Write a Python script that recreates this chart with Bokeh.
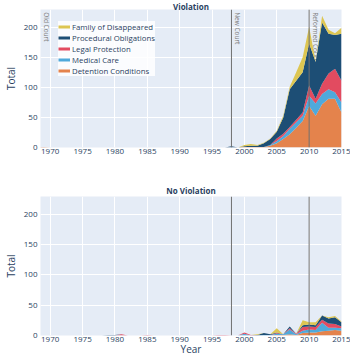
from bokeh.plotting import figure
from bokeh.models import ColumnDataSource, Span, Legend, LegendItem, Range1d
from bokeh.layouts import column
from bokeh.core.properties import value
from bokeh.embed import file_html
from bokeh.resources import INLINE

years = list(range(1968, 2016))
series_names = ["Detention Conditions", "Medical Care", "Legal Protection",
                "Procedural Obligations", "Family of Disappeared"]
colors = ["#E4834C", "#4FA9DB", "#E24B60", "#1D4E75", "#DDC652"]

#            1968 .......................................................................................... 2015
viol_detention = [0, 1, 0, 0, 0, 0, 0, 0, 0, 0, 0, 0, 0, 0, 0, 0, 0, 0, 0, 0, 0, 0, 0, 0, 0, 0, 0, 0, 0, 0,
                  0, 0, 1, 1, 1, 1, 3, 7, 14, 22, 33, 44, 69, 53, 72, 81, 81, 58]
viol_medical = [0, 0, 0, 0, 0, 0, 0, 0, 0, 0, 0, 0, 0, 0, 0, 0, 0, 0, 0, 0, 0, 0, 0, 0, 0, 0, 0, 0, 0, 0,
                0, 0, 0, 0, 0, 0, 1, 4, 5, 9, 9, 9, 17, 20, 17, 16, 11, 17]
viol_legal = [0, 0, 0, 0, 0, 0, 0, 0, 0, 0, 0, 0, 0, 0, 0, 0, 0, 0, 0, 0, 0, 0, 0, 0, 0, 0, 0, 0, 0, 0,
              0, 0, 0, 0, 0, 0, 0, 4, 4, 3, 4, 5, 17, 8, 17, 26, 39, 36]
viol_procedural = [0, 0, 0, 0, 0, 0, 0, 0, 0, 0, 0, 0, 0, 0, 0, 0, 0, 0, 0, 0, 0, 0, 0, 0, 0, 0, 0, 0, 0, 0,
                   2, 0, 1, 2, 2, 6, 10, 11, 27, 63, 65, 67, 70, 61, 102, 66, 56, 78]
viol_family = [0, 0, 0, 0, 0, 0, 0, 0, 0, 0, 0, 0, 0, 0, 0, 0, 0, 0, 0, 0, 0, 0, 0, 0, 0, 0, 0, 0, 0, 0,
               0, 0, 2, 3, 1, 1, 1, 2, 3, 4, 14, 25, 28, 1, 11, 7, 3, 10]

noviol_detention = [0, 0, 0, 0, 0, 0, 0, 0, 0, 0, 0, 0, 0, 0, 0, 0, 0, 0, 0, 0, 0, 0, 0, 0, 0, 0, 0, 0, 0, 0,
                    0, 0, 0, 0, 0, 0, 0, 1, 1, 2, 1, 4, 5, 5, 7, 8, 9, 8]
noviol_medical = [0, 0, 0, 0, 0, 0, 0, 0, 0, 0, 0, 0, 0, 0, 0, 0, 0, 0, 0, 0, 0, 0, 0, 0, 0, 0, 0, 0, 0, 0,
                  0, 0, 3, 0, 0, 1, 1, 2, 1, 8, 1, 4, 5, 4, 14, 5, 4, 4]
noviol_legal = [0, 0, 0, 0, 0, 0, 0, 0, 0, 0, 0, 0, 0, 2, 0, 0, 0, 1, 0, 0, 0, 0, 0, 0, 0, 0, 0, 0, 1, 1,
                0, 0, 2, 1, 0, 0, 0, 1, 0, 2, 1, 6, 5, 5, 5, 7, 6, 3]
noviol_procedural = [0, 0, 0, 0, 0, 0, 0, 0, 0, 0, 0, 1, 1, 0, 0, 0, 0, 0, 0, 0, 0, 0, 0, 0, 0, 0, 0, 0, 0, 0,
                     0, 0, 0, 0, 1, 3, 1, 1, 0, 3, 0, 3, 3, 3, 7, 8, 11, 7]
noviol_family = [0, 0, 0, 0, 0, 0, 0, 0, 0, 0, 0, 0, 0, 0, 0, 0, 0, 0, 0, 0, 0, 0, 0, 0, 0, 0, 0, 0, 0, 0,
                 0, 0, 0, 0, 1, 0, 0, 7, 0, 0, 0, 8, 4, 5, 0, 2, 2, 1]

x_ticks = [1970, 1975, 1980, 1985, 1990, 1995, 2000, 2005, 2010, 2015]
y_ticks = [0, 50, 100, 150, 200]
court_labels = ["Old Court", "New Court", "Reformed Court"]
court_years = [1968.5, 1998, 2010]
line_years = [1998, 2010]

FONT = "Open Sans"
TXT = "#2a3f5f"
keys = ["det", "med", "leg", "pro", "fam"]


def make_fig(title, height, top, bottom, title_standoff, data, show_x_label, show_texts, show_legend):
    p = figure(width=350, height=height, x_range=Range1d(1968.5, 2015), y_range=Range1d(0, 229.5),
               output_backend="svg", toolbar_location=None,
               min_border_left=34, min_border_right=9, min_border_top=top, min_border_bottom=bottom,
               background_fill_color="#E5ECF6", border_fill_color="white", outline_line_color=None)
    p.title.text = title
    p.title.align = "center"
    p.title.text_font = FONT
    p.title.text_font_size = "8px"
    p.title.text_font_style = "bold"
    p.title.text_color = TXT
    p.title.standoff = title_standoff
    p.title.offset = 0

    for ax in (p.xaxis[0], p.yaxis[0]):
        ax.axis_line_color = None
        ax.major_tick_line_color = None
        ax.minor_tick_line_color = None
        ax.major_tick_out = 0
        ax.major_tick_in = 0
        ax.minor_tick_out = 0
        ax.minor_tick_in = 0
        ax.major_label_text_font = FONT
        ax.major_label_text_font_size = "8px"
        ax.major_label_text_color = TXT
        ax.axis_label_text_font = FONT
        ax.axis_label_text_font_size = "10px"
        ax.axis_label_text_font_style = "normal"
        ax.axis_label_text_color = TXT
        ax.axis_label_standoff = 0
    p.xaxis.major_label_standoff = 1
    p.yaxis.major_label_standoff = 3
    p.yaxis.axis_label_standoff = 3
    p.xaxis.ticker = x_ticks
    p.yaxis.ticker = y_ticks
    p.yaxis.axis_label = "Total"
    if show_x_label:
        p.xaxis.axis_label = "Year"
        p.xaxis.axis_label_standoff = -3
    p.xgrid.grid_line_color = "white"
    p.ygrid.grid_line_color = "white"

    if show_texts:
        p.text(x=court_years, y=[225] * len(court_years), text=court_labels, angle=-1.5708,
               text_align="left", text_baseline="middle", x_offset=6,
               text_font=value(FONT), text_font_size="6.5px", text_color="#808080")

    src = ColumnDataSource(dict(year=years, **dict(zip(keys, data))))
    p.varea_stack(stackers=keys, x="year", color=colors, source=src)

    for yr in line_years:
        p.add_layout(Span(location=yr, dimension="height", line_color="#707070", line_width=1))

    if show_legend:
        items = []
        for name, col in reversed(list(zip(series_names, colors))):
            # off-screen dummy line so the legend shows a line swatch
            r = p.line(x=[1900, 1901], y=[-10, -10], line_color=col, line_width=3)
            items.append(LegendItem(label=name, renderers=[r]))
        lg = Legend(items=items, location=(18, 71), orientation="vertical",
                    label_text_font=FONT, label_text_font_size="7.8px", label_text_color=TXT,
                    glyph_width=12, glyph_height=11, label_height=11, label_standoff=2,
                    spacing=0, padding=2, margin=0,
                    background_fill_color="white", background_fill_alpha=0.85,
                    border_line_color=None)
        p.add_layout(lg, "center")
    return p


p1 = make_fig("Violation", 170, 8, 23, -4,
              [viol_detention, viol_medical, viol_legal, viol_procedural, viol_family],
              False, True, True)
p2 = make_fig("No Violation", 188, 26, 23, 2,
              [noviol_detention, noviol_medical, noviol_legal, noviol_procedural, noviol_family],
              True, False, False)

layout = column(p1, p2, spacing=0)
open("out.html", "w").write(file_html(layout, INLINE))
